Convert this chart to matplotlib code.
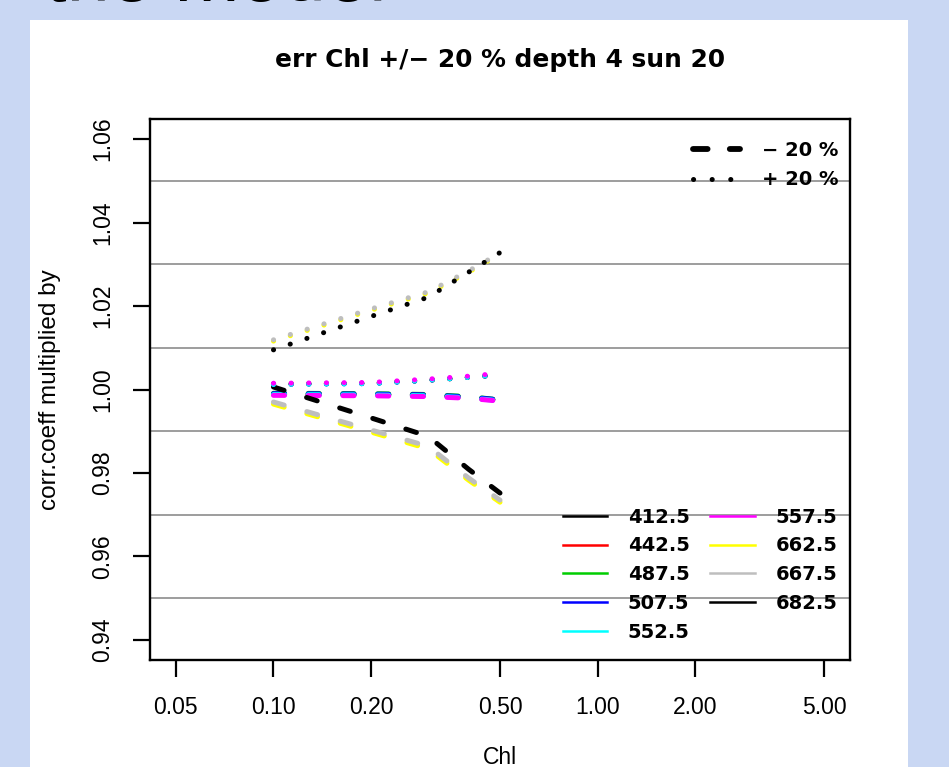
import matplotlib.pyplot as plt
from matplotlib.lines import Line2D
from matplotlib.patches import Rectangle

W, H = 949, 767

# Chl values (x) and wavelengths
chl = [0.1, 0.2, 0.3, 0.4, 0.5]
wavelengths = ["412.5", "442.5", "487.5", "507.5", "552.5",
               "557.5", "662.5", "667.5", "682.5"]
colors = ["#000000", "#FF0000", "#00CD00", "#0000FF", "#00FFFF",
          "#FF00FF", "#FFFF00", "#BEBEBE", "#000000"]

# corr.coeff multiplier for Chl - 20 %
minus20 = [
    [0.9989, 0.9988, 0.9986, 0.9981, 0.9974],
    [0.9989, 0.9988, 0.9986, 0.9981, 0.9974],
    [0.9991, 0.9990, 0.9988, 0.9983, 0.9975],
    [0.9990, 0.9989, 0.9987, 0.9982, 0.9975],
    [0.9988, 0.9987, 0.9985, 0.9980, 0.9973],
    [0.9986, 0.9985, 0.9983, 0.9979, 0.9972],
    [0.9965, 0.9898, 0.9858, 0.9783, 0.9730],
    [0.9970, 0.9903, 0.9864, 0.9788, 0.9735],
    [1.0006, 0.9932, 0.9888, 0.9809, 0.9752],
]

# corr.coeff multiplier for Chl + 20 %
plus20 = [
    [1.0013, 1.0015, 1.0022, 1.0029, 1.0035],
    [1.0013, 1.0015, 1.0022, 1.0029, 1.0035],
    [1.0013, 1.0015, 1.0023, 1.0030, 1.0036],
    [1.0012, 1.0014, 1.0022, 1.0029, 1.0035],
    [1.0012, 1.0014, 1.0022, 1.0029, 1.0035],
    [1.0015, 1.0017, 1.0025, 1.0032, 1.0039],
    [1.0116, 1.0190, 1.0231, 1.0281, 1.0325],
    [1.0119, 1.0193, 1.0234, 1.0284, 1.0327],
    [1.0095, 1.0175, 1.0221, 1.0281, 1.0328],
]

x_ticks = [0.05, 0.1, 0.2, 0.5, 1.0, 2.0, 5.0]
x_ticklabels = ["0.05", "0.10", "0.20", "0.50", "1.00", "2.00", "5.00"]
y_ticks = [0.94, 0.96, 0.98, 1.00, 1.02, 1.04, 1.06]
y_ticklabels = ["0.94", "0.96", "0.98", "1.00", "1.02", "1.04", "1.06"]
grid_levels = [0.95, 0.97, 0.99, 1.01, 1.03, 1.05]

plt.rcParams["font.family"] = ["Liberation Sans", "DejaVu Sans"]
plt.rcParams["lines.scale_dashes"] = False

DASHED = (8, 17)
DOTTED = (0.1, 12.6)
LW = 3.6
BOLD = dict(family=["DejaVu Sans"], weight="bold")

fig = plt.figure(figsize=(W / 100, H / 100), dpi=100, facecolor="#c9d7f3")
fig.patches.append(Rectangle((30 / W, 0), 878 / W, 747 / H, transform=fig.transFigure,
                             facecolor="white", edgecolor="none", zorder=-5))
fig.text(45 / W, 1 - 1 / H, "the model", fontsize=56, va="baseline", color="black")

ax = fig.add_axes([150 / W, 107 / H, 700 / W, 541 / H])
ax.set_xscale("log")
ax.set_xlim(10 ** -1.381, 10 ** 0.779)
ax.set_ylim(0.9352, 1.0648)

for lev in grid_levels:
    ax.axhline(lev, color="#8c8c8c", lw=1.2, zorder=1)

for col, vals in zip(colors, minus20):
    ax.plot(chl, vals, color=col, lw=LW, dashes=DASHED, dash_capstyle="round", zorder=2)
for col, vals in zip(colors, plus20):
    ax.plot(chl, vals, color=col, lw=LW, dashes=DOTTED, dash_capstyle="round", zorder=2)

ax.set_xticks(x_ticks)
ax.set_xticklabels(x_ticklabels)
ax.minorticks_off()
ax.set_yticks(y_ticks)
ax.set_yticklabels(y_ticklabels, rotation=90, va="center")
ax.tick_params(axis="x", length=12, width=1.6, pad=14, labelsize=16.5)
ax.tick_params(axis="y", length=12, width=1.6, pad=14, labelsize=16.5)
for sp in ax.spines.values():
    sp.set_linewidth(1.7)

ax.set_ylabel("corr.coeff multiplied by", fontsize=17.5, va="center")
ax.yaxis.set_label_coords((50 - 150) / 700, 0.5)
ax.set_xlabel("Chl", fontsize=16.5, va="center")
ax.xaxis.set_label_coords(0.5, (660 - 757) / 541)

fig.text(500 / W, 1 - 67 / H, "err Chl +/\u2212 20 % depth 4 sun 20",
         ha="center", va="baseline", fontsize=17.9, **BOLD)

style_handles = [
    Line2D([], [], color="black", lw=LW + 0.6, dashes=(10.5, 16), dash_capstyle="round"),
    Line2D([], [], color="black", lw=LW, dashes=(0.1, 13.3), dash_capstyle="round"),
]
leg1 = ax.legend(style_handles, ["\u2212 20 %", "+ 20 %"], loc="upper right",
                 bbox_to_anchor=(848 / W, 1 - 131 / H), bbox_transform=fig.transFigure,
                 frameon=False, borderpad=0, handlelength=2.45, handletextpad=1.1,
                 labelspacing=0.55, prop=dict(family="DejaVu Sans", weight="bold", size=14))
ax.add_artist(leg1)

band_handles = [Line2D([], [], color=c, lw=1.8) for c in colors]
ax.legend(band_handles, wavelengths, loc="upper left", ncol=2,
          bbox_to_anchor=(553 / W, 1 - 498 / H), bbox_transform=fig.transFigure,
          frameon=False, borderpad=0, handlelength=2.3, handletextpad=1.05,
          columnspacing=1.05, labelspacing=0.5,
          prop=dict(family="DejaVu Sans", weight="bold", size=14))

fig.savefig("out.png", dpi=100, facecolor=fig.get_facecolor())
